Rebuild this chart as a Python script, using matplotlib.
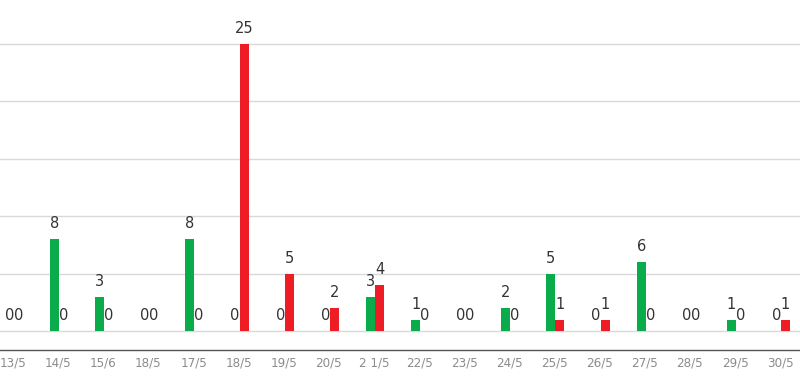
import matplotlib
matplotlib.use("Agg")
import matplotlib.pyplot as plt
from matplotlib import font_manager
import numpy as np

# data
dates = ["13/5", "14/5", "15/6", "18/5", "17/5", "18/5", "19/5", "20/5", "2 1/5",
         "22/5", "23/5", "24/5", "25/5", "26/5", "27/5", "28/5", "29/5", "30/5"]
green_vals = [0, 8, 3, 0, 8, 0, 0, 0, 3, 1, 0, 2, 5, 0, 6, 0, 1, 0]
red_vals = [0, 0, 0, 0, 0, 25, 5, 2, 4, 0, 0, 0, 1, 1, 0, 0, 0, 1]

green = "#0aab4b"
red = "#ee1c25"

# look for a narrow, regular-weight font for the date labels
narrow = None
for f in font_manager.fontManager.ttflist:
    is_narrow = ("Narrow" in f.name or "Condensed" in f.name
                 or f.stretch in ("condensed", "semi-condensed", 500, 600, 700))
    if is_narrow and f.style == "normal" and f.weight in (300, 400, "normal", "regular", "light"):
        narrow = f.fname
        break
if narrow:
    tick_prop = font_manager.FontProperties(fname=narrow, size=9.5)
else:
    tick_prop = font_manager.FontProperties(family="DejaVu Sans", size=9)

fig = plt.figure(figsize=(8, 3.76), dpi=100)
ax = fig.add_axes([0, 26 / 376, 1, 350 / 376])

x = np.arange(len(dates))
w = 0.2
ax.bar(x - w / 2, green_vals, w, color=green, zorder=3)
ax.bar(x + w / 2, red_vals, w, color=red, zorder=3)

for xi, g, r in zip(x, green_vals, red_vals):
    ax.annotate(str(g), (xi - w / 2, g), xytext=(0, 11), textcoords="offset points",
                ha="center", va="center", fontsize=10.5, color="#333333", zorder=4)
    ax.annotate(str(r), (xi + w / 2, r), xytext=(0, 11), textcoords="offset points",
                ha="center", va="center", fontsize=10.5, color="#333333", zorder=4)

ax.set_xlim(-0.31, 17.42)
ax.set_ylim(-1.655, 28.83)
ax.set_yticks([0, 5, 10, 15, 20, 25])
ax.yaxis.grid(True, color="#d9d9d9", linewidth=1, zorder=0)
ax.tick_params(axis="y", left=False, labelleft=False)
ax.set_xticks(x - 0.02)
ax.set_xticklabels(dates, fontproperties=tick_prop, color="#8c8c8c")
ax.tick_params(axis="x", length=0, pad=5)

for s in ["top", "left", "right"]:
    ax.spines[s].set_visible(False)
ax.spines["bottom"].set_color("#555555")
ax.spines["bottom"].set_linewidth(1)

fig.savefig("out.png", dpi=100)
